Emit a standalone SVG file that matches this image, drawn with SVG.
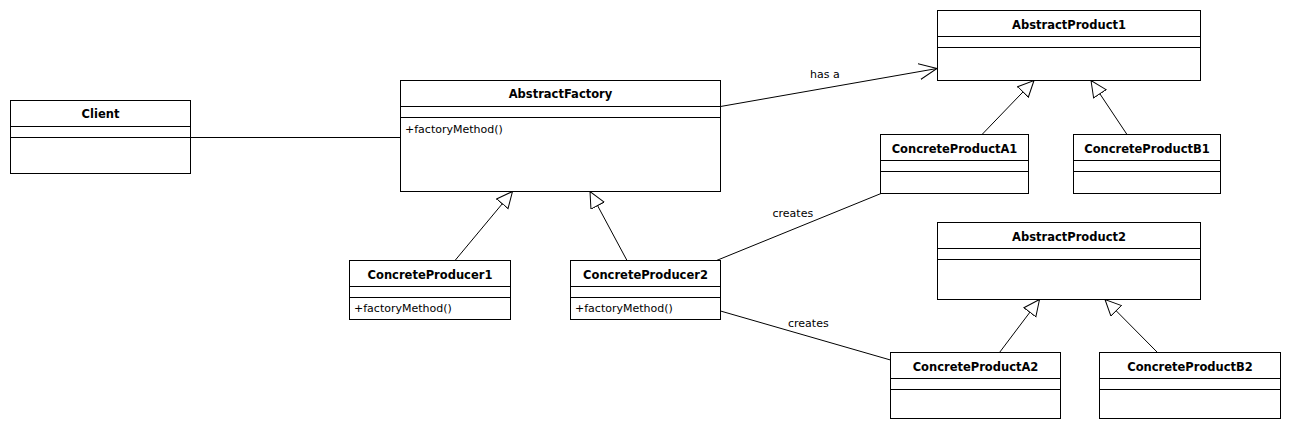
<svg xmlns="http://www.w3.org/2000/svg" width="1290" height="428" viewBox="0 0 1290 428">
<style>
.box{fill:#fff;stroke:#000;stroke-width:1}
.sep{stroke:#000;stroke-width:1}
.t{font-family:"DejaVu Sans",Verdana,sans-serif;font-weight:bold;font-size:11.5px;text-anchor:middle;fill:#000}
.m{font-family:"DejaVu Sans",Verdana,sans-serif;font-size:11px;fill:#000}
.l{font-family:"DejaVu Sans",Verdana,sans-serif;font-size:11px;fill:#000}
.c{stroke:#000;stroke-width:1;fill:none}
</style>
<defs>
<marker id="tri" markerUnits="userSpaceOnUse" markerWidth="18" markerHeight="18" refX="16.5" refY="8" orient="auto">
<path d="M0.5,0.5 L16.5,8 L0.5,15.5 Z" fill="#fff" stroke="#000" stroke-width="1"/>
</marker>
<marker id="open" markerUnits="userSpaceOnUse" markerWidth="20" markerHeight="20" refX="18" refY="9" orient="auto">
<path d="M0,1 L18,9 L0,17" fill="none" stroke="#000" stroke-width="1"/>
</marker>
</defs>
<rect width="1290" height="428" fill="#fff"/>
<g id="connectors">
<line class="c" x1="190.5" y1="137.5" x2="400.5" y2="137.5"/>
<line class="c" x1="720.5" y1="106.5" x2="937" y2="68.5" marker-end="url(#open)"/>
<line class="c" x1="455" y1="260.5" x2="512.5" y2="191.5" marker-end="url(#tri)"/>
<line class="c" x1="627" y1="260.5" x2="590" y2="191.5" marker-end="url(#tri)"/>
<line class="c" x1="982" y1="134.5" x2="1034" y2="80.5" marker-end="url(#tri)"/>
<line class="c" x1="1127" y1="134.5" x2="1091" y2="80.5" marker-end="url(#tri)"/>
<line class="c" x1="999.5" y1="352.5" x2="1039.5" y2="299.5" marker-end="url(#tri)"/>
<line class="c" x1="1157.5" y1="352.5" x2="1105" y2="299.5" marker-end="url(#tri)"/>
<line class="c" x1="716.5" y1="260.5" x2="881" y2="193.5"/>
<line class="c" x1="720.5" y1="311" x2="890.5" y2="360"/>
<text class="l" x="810" y="78">has a</text>
<text class="l" x="772.5" y="216.5">creates</text>
<text class="l" x="788" y="326.5">creates</text>
</g>
<g id="Client">
<rect class="box" x="10.5" y="100.5" width="180" height="73"/>
<line class="sep" x1="10.5" y1="126.5" x2="190.5" y2="126.5"/>
<line class="sep" x1="10.5" y1="137.5" x2="190.5" y2="137.5"/>
<text class="t" x="100.5" y="118">Client</text>
</g>
<g id="AbstractFactory">
<rect class="box" x="400.5" y="80.5" width="320" height="111"/>
<line class="sep" x1="400.5" y1="106.5" x2="720.5" y2="106.5"/>
<line class="sep" x1="400.5" y1="117.5" x2="720.5" y2="117.5"/>
<text class="t" x="560.5" y="98">AbstractFactory</text>
<text class="m" x="405" y="133">+factoryMethod()</text>
</g>
<g id="ConcreteProducer1">
<rect class="box" x="349.5" y="260.5" width="161" height="59"/>
<line class="sep" x1="349.5" y1="286.5" x2="510.5" y2="286.5"/>
<line class="sep" x1="349.5" y1="297.5" x2="510.5" y2="297.5"/>
<text class="t" x="430" y="278.5">ConcreteProducer1</text>
<text class="m" x="354" y="311.5">+factoryMethod()</text>
</g>
<g id="ConcreteProducer2">
<rect class="box" x="570.5" y="260.5" width="150" height="59"/>
<line class="sep" x1="570.5" y1="286.5" x2="720.5" y2="286.5"/>
<line class="sep" x1="570.5" y1="297.5" x2="720.5" y2="297.5"/>
<text class="t" x="645.5" y="278.5">ConcreteProducer2</text>
<text class="m" x="575" y="311.5">+factoryMethod()</text>
</g>
<g id="AbstractProduct1">
<rect class="box" x="937.5" y="10.5" width="263" height="70"/>
<line class="sep" x1="937.5" y1="36.5" x2="1200.5" y2="36.5"/>
<line class="sep" x1="937.5" y1="47.5" x2="1200.5" y2="47.5"/>
<text class="t" x="1069" y="28.5">AbstractProduct1</text>
</g>
<g id="ConcreteProductA1">
<rect class="box" x="880.5" y="134.5" width="148" height="59"/>
<line class="sep" x1="880.5" y1="160.5" x2="1028.5" y2="160.5"/>
<line class="sep" x1="880.5" y1="171.5" x2="1028.5" y2="171.5"/>
<text class="t" x="954.5" y="152.5">ConcreteProductA1</text>
</g>
<g id="ConcreteProductB1">
<rect class="box" x="1073.5" y="134.5" width="147" height="59"/>
<line class="sep" x1="1073.5" y1="160.5" x2="1220.5" y2="160.5"/>
<line class="sep" x1="1073.5" y1="171.5" x2="1220.5" y2="171.5"/>
<text class="t" x="1147" y="152.5">ConcreteProductB1</text>
</g>
<g id="AbstractProduct2">
<rect class="box" x="937.5" y="222.5" width="263" height="77"/>
<line class="sep" x1="937.5" y1="248.5" x2="1200.5" y2="248.5"/>
<line class="sep" x1="937.5" y1="259.5" x2="1200.5" y2="259.5"/>
<text class="t" x="1069" y="240.5">AbstractProduct2</text>
</g>
<g id="ConcreteProductA2">
<rect class="box" x="890.5" y="352.5" width="170" height="66"/>
<line class="sep" x1="890.5" y1="378.5" x2="1060.5" y2="378.5"/>
<line class="sep" x1="890.5" y1="389.5" x2="1060.5" y2="389.5"/>
<text class="t" x="975.5" y="370.5">ConcreteProductA2</text>
</g>
<g id="ConcreteProductB2">
<rect class="box" x="1099.5" y="352.5" width="181" height="66"/>
<line class="sep" x1="1099.5" y1="378.5" x2="1280.5" y2="378.5"/>
<line class="sep" x1="1099.5" y1="389.5" x2="1280.5" y2="389.5"/>
<text class="t" x="1190" y="370.5">ConcreteProductB2</text>
</g>
</svg>
